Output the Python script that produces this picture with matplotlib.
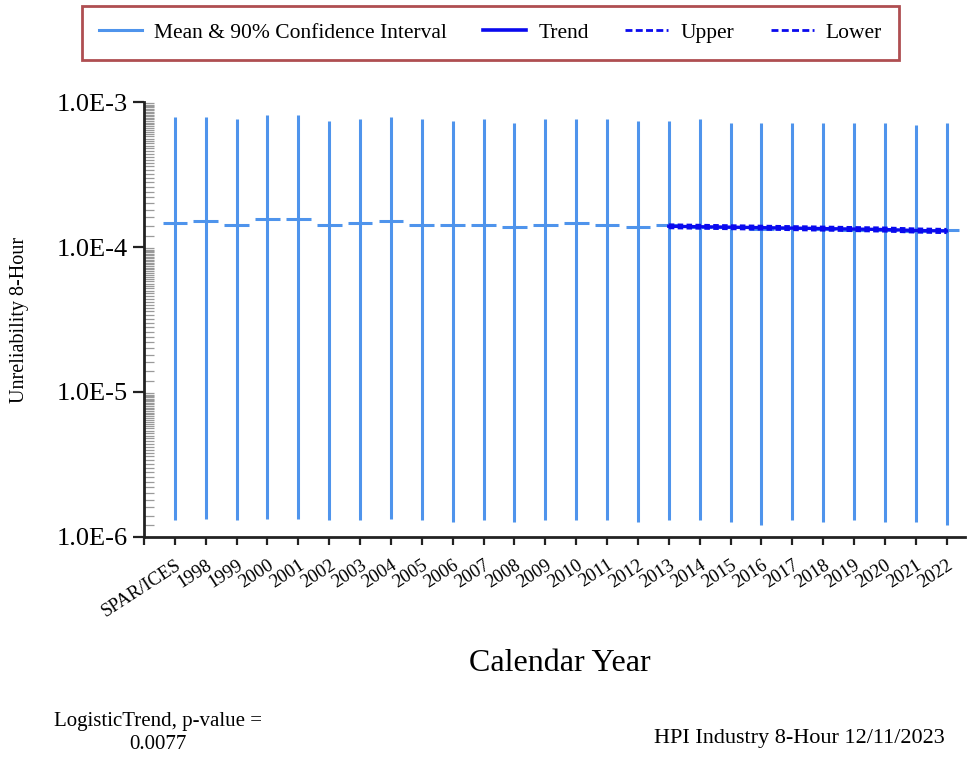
import numpy as np
import matplotlib
matplotlib.use("Agg")
import matplotlib.pyplot as plt
from matplotlib.lines import Line2D
from matplotlib.ticker import FixedLocator, NullFormatter

plt.rcParams["font.family"] = ["Liberation Serif", "DejaVu Serif"]

# Categories: pooled prior plus calendar years
categories = ["SPAR/ICES"] + [str(y) for y in range(1998, 2023)]

# Mean and 90% interval bounds of 8-hour unreliability
means = [1.455e-4, 1.50e-4, 1.41e-4, 1.55e-4, 1.55e-4, 1.41e-4, 1.455e-4,
         1.50e-4, 1.41e-4, 1.41e-4, 1.41e-4, 1.37e-4, 1.41e-4, 1.455e-4,
         1.41e-4, 1.37e-4, 1.41e-4, 1.38e-4, 1.37e-4, 1.34e-4, 1.35e-4,
         1.34e-4, 1.32e-4, 1.31e-4, 1.29e-4, 1.30e-4]
upper_ci = [7.92e-4, 7.92e-4, 7.67e-4, 8.13e-4, 8.13e-4, 7.43e-4, 7.67e-4,
            7.92e-4, 7.67e-4, 7.43e-4, 7.67e-4, 7.20e-4, 7.67e-4, 7.67e-4,
            7.67e-4, 7.43e-4, 7.43e-4, 7.67e-4, 7.20e-4, 7.20e-4, 7.20e-4,
            7.20e-4, 7.20e-4, 7.20e-4, 6.97e-4, 7.20e-4]
lower_ci = [1.30e-6, 1.33e-6, 1.30e-6, 1.33e-6, 1.33e-6, 1.30e-6, 1.30e-6,
            1.33e-6, 1.30e-6, 1.26e-6, 1.30e-6, 1.26e-6, 1.30e-6, 1.30e-6,
            1.30e-6, 1.26e-6, 1.30e-6, 1.30e-6, 1.26e-6, 1.21e-6, 1.30e-6,
            1.26e-6, 1.30e-6, 1.26e-6, 1.26e-6, 1.21e-6]

# Logistic trend fit over the most recent ten years
trend_years = [str(y) for y in range(2013, 2023)]
trend = [1.39e-4, 1.38e-4, 1.37e-4, 1.36e-4, 1.35e-4, 1.34e-4, 1.33e-4,
         1.32e-4, 1.30e-4, 1.29e-4]
trend_upper = [1.43e-4, 1.42e-4, 1.41e-4, 1.40e-4, 1.39e-4, 1.38e-4,
               1.37e-4, 1.36e-4, 1.34e-4, 1.33e-4]
trend_lower = [1.35e-4, 1.34e-4, 1.33e-4, 1.32e-4, 1.31e-4, 1.30e-4,
               1.29e-4, 1.28e-4, 1.26e-4, 1.25e-4]

ci_color = "#4F94EC"
trend_color = "#0A0AEE"

fig = plt.figure(figsize=(9.69, 7.58), dpi=100)
ax = fig.add_axes([0.1486, 0.2916, 0.8474, 0.5738])

x = np.arange(1, len(categories) + 1)
ax.vlines(x, lower_ci, upper_ci, color=ci_color, lw=2.2, zorder=2)
cap = 0.4
ax.hlines(means, x - cap, x + cap, color=ci_color, lw=2.2, zorder=2)

xt = np.array([categories.index(y) + 1 for y in trend_years])
ax.plot(xt, trend, color=trend_color, lw=2.4, zorder=3)
ax.plot(xt, trend_upper, color=trend_color, lw=1.6, ls=(0, (2.5, 1.5)), zorder=3)
ax.plot(xt, trend_lower, color=trend_color, lw=1.6, ls=(0, (2.5, 1.5)), zorder=3)

ax.set_yscale("log")
ax.set_ylim(1e-6, 1e-3)
ax.set_xlim(0, 26.6)

ax.set_yticks([1e-6, 1e-5, 1e-4, 1e-3])
ax.set_yticklabels(["1.0E-6", "1.0E-5", "1.0E-4", "1.0E-3"], fontsize=19)
minor = [m * 10.0 ** n for n in (-6, -5, -4) for m in np.arange(1.2, 9.9, 0.2)]
ax.yaxis.set_minor_locator(FixedLocator(minor))
ax.yaxis.set_minor_formatter(NullFormatter())
ax.tick_params(axis="y", which="major", direction="out", length=8, width=1.6,
               color="#222222", pad=4)
ax.tick_params(axis="y", which="minor", direction="in", length=7.5, width=0.9,
               color="#9a9a9a")

ax.set_xticks(np.arange(0, len(categories) + 1))
ax.set_xticklabels([""] + categories, fontsize=13.5, rotation=33,
                   ha="right", va="top", rotation_mode="anchor")
ax.tick_params(axis="x", which="major", direction="out", length=6, width=1.6,
               color="#222222", pad=8)
ax.tick_params(axis="x", which="minor", bottom=False)

for s in ("top", "right"):
    ax.spines[s].set_visible(False)
for s in ("left", "bottom"):
    ax.spines[s].set_linewidth(2)
    ax.spines[s].set_color("#222222")

fig.text(0.0206, 0.578, "Unreliability 8-Hour", rotation=90, fontsize=14.5,
         ha="center", va="center")
fig.text(0.578, 0.125, "Calendar Year", fontsize=23, ha="center", va="center")
fig.text(0.163, 0.033, "LogisticTrend, p-value =\n0.0077", fontsize=15,
         ha="center", va="center", linespacing=1.25)
fig.text(0.975, 0.026, "HPI Industry 8-Hour 12/11/2023", fontsize=16,
         ha="right", va="center")

handles = [
    Line2D([], [], color=ci_color, lw=2.2),
    Line2D([], [], color=trend_color, lw=2.6),
    Line2D([], [], color=trend_color, lw=2.0, ls=(0, (2.5, 1.2))),
    Line2D([], [], color=trend_color, lw=2.0, ls=(0, (2.5, 1.2))),
]
labels = ["Mean & 90% Confidence Interval", "Trend", "Upper", "Lower"]
leg = fig.legend(handles, labels, loc="center", bbox_to_anchor=(0.506, 0.9565),
                 ncol=4, fontsize=15.5, frameon=True, fancybox=False,
                 handlelength=2.0, handletextpad=0.55, columnspacing=1.7,
                 borderpad=0.8)
leg.get_frame().set_edgecolor("#9B2226")
leg.get_frame().set_linewidth(2)

fig.savefig("out.png", dpi=100)
